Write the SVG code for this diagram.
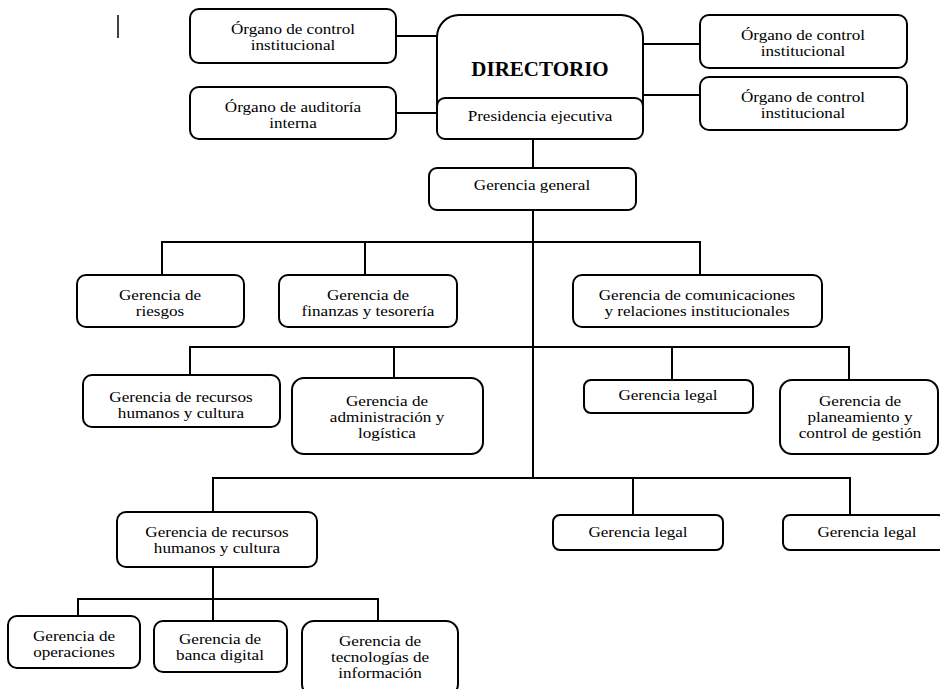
<svg xmlns="http://www.w3.org/2000/svg" width="940" height="689" viewBox="0 0 940 689">
<style>
.b{fill:#fff;stroke:#000;stroke-width:2}
.t{font-family:"Liberation Serif","Times New Roman",serif;font-size:14.5px;fill:#000;text-anchor:middle}
.h{font-family:"Liberation Serif","Times New Roman",serif;font-size:21px;font-weight:bold;fill:#000;text-anchor:middle}
.c{fill:none;stroke:#000;stroke-width:2}
</style>
<rect width="940" height="689" fill="#fff"/>
<line x1="118" y1="15" x2="118" y2="38" stroke="#000" stroke-width="1.5"/>
<g id="connectors">
<line class="c" x1="396" y1="36" x2="437" y2="36" stroke-width="2.5"/>
<line class="c" x1="396" y1="113" x2="437" y2="113" stroke-width="2.5"/>
<line class="c" x1="643" y1="44" x2="700" y2="44"/>
<line class="c" x1="643" y1="95" x2="700" y2="95"/>
<line class="c" x1="533" y1="139" x2="533" y2="168"/>
<line class="c" x1="533" y1="210" x2="533" y2="478"/>
<polyline class="c" points="162,275 162,242 700,242 700,275"/>
<line class="c" x1="365" y1="242" x2="365" y2="275"/>
<polyline class="c" points="190,375 190,347 849,347 849,380"/>
<line class="c" x1="394" y1="347" x2="394" y2="378"/>
<line class="c" x1="672" y1="347" x2="672" y2="380"/>
<polyline class="c" points="213,512 213,478 850,478 850,515"/>
<line class="c" x1="633" y1="478" x2="633" y2="515"/>
<line class="c" x1="213" y1="567" x2="213" y2="621"/>
<polyline class="c" points="78,616 78,599 378,599 378,621"/>
</g>
<g id="organo-control-1"><rect class="b" x="190" y="9" width="206" height="54" rx="9"/><text class="t" transform="translate(293,34) scale(1.18,1)">Órgano de control</text><text class="t" transform="translate(293,50) scale(1.18,1)">institucional</text></g>
<g id="organo-auditoria"><rect class="b" x="190" y="87" width="206" height="52" rx="9"/><text class="t" transform="translate(293,112) scale(1.18,1)">Órgano de auditoría</text><text class="t" transform="translate(293,128) scale(1.18,1)">interna</text></g>
<g id="directorio"><rect class="b" x="437" y="15" width="206" height="124" rx="22"/><text class="h" x="540" y="76">DIRECTORIO</text></g>
<g id="presidencia"><rect class="b" x="437" y="98" width="206" height="41" rx="8"/><text class="t" transform="translate(540,121) scale(1.18,1)">Presidencia ejecutiva</text></g>
<g id="organo-control-2"><rect class="b" x="700" y="15" width="207" height="53" rx="9"/><text class="t" transform="translate(803,40) scale(1.18,1)">Órgano de control</text><text class="t" transform="translate(803,56) scale(1.18,1)">institucional</text></g>
<g id="organo-control-3"><rect class="b" x="700" y="77" width="207" height="53" rx="9"/><text class="t" transform="translate(803,102) scale(1.18,1)">Órgano de control</text><text class="t" transform="translate(803,118) scale(1.18,1)">institucional</text></g>
<g id="gerencia-general"><rect class="b" x="429" y="168" width="207" height="42" rx="8"/><text class="t" transform="translate(532,190) scale(1.18,1)">Gerencia general</text></g>
<g id="riesgos"><rect class="b" x="77" y="275" width="167" height="52" rx="9"/><text class="t" transform="translate(160,300) scale(1.18,1)">Gerencia de</text><text class="t" transform="translate(160,316) scale(1.18,1)">riesgos</text></g>
<g id="finanzas"><rect class="b" x="279" y="275" width="178" height="52" rx="9"/><text class="t" transform="translate(368,300) scale(1.18,1)">Gerencia de</text><text class="t" transform="translate(368,316) scale(1.18,1)">finanzas y tesorería</text></g>
<g id="comunicaciones"><rect class="b" x="573" y="275" width="249" height="52" rx="9"/><text class="t" transform="translate(697,300) scale(1.18,1)">Gerencia de comunicaciones</text><text class="t" transform="translate(697,316) scale(1.18,1)">y relaciones institucionales</text></g>
<g id="rrhh-1"><rect class="b" x="83" y="375" width="197" height="52" rx="9"/><text class="t" transform="translate(181,402) scale(1.18,1)">Gerencia de recursos</text><text class="t" transform="translate(181,418) scale(1.18,1)">humanos y cultura</text></g>
<g id="administracion"><rect class="b" x="292" y="378" width="191" height="76" rx="12"/><text class="t" transform="translate(387,406) scale(1.18,1)">Gerencia de</text><text class="t" transform="translate(387,422) scale(1.18,1)">administración y</text><text class="t" transform="translate(387,438) scale(1.18,1)">logística</text></g>
<g id="legal-1"><rect class="b" x="584" y="380" width="169" height="33" rx="7"/><text class="t" transform="translate(668,400) scale(1.18,1)">Gerencia legal</text></g>
<g id="planeamiento"><rect class="b" x="780" y="380" width="158" height="74" rx="12"/><text class="t" transform="translate(860,406) scale(1.18,1)">Gerencia de</text><text class="t" transform="translate(860,422) scale(1.18,1)">planeamiento y</text><text class="t" transform="translate(860,438) scale(1.18,1)">control de gestión</text></g>
<g id="rrhh-2"><rect class="b" x="117" y="512" width="200" height="55" rx="9"/><text class="t" transform="translate(217,537) scale(1.18,1)">Gerencia de recursos</text><text class="t" transform="translate(217,553) scale(1.18,1)">humanos y cultura</text></g>
<g id="legal-2"><rect class="b" x="553" y="515" width="170" height="35" rx="7"/><text class="t" transform="translate(638,537) scale(1.18,1)">Gerencia legal</text></g>
<g id="legal-3"><rect class="b" x="783" y="515" width="162" height="35" rx="7"/><text class="t" transform="translate(867,537) scale(1.18,1)">Gerencia legal</text></g>
<g id="operaciones"><rect class="b" x="8" y="616" width="132" height="52" rx="9"/><text class="t" transform="translate(74,641) scale(1.18,1)">Gerencia de</text><text class="t" transform="translate(74,657) scale(1.18,1)">operaciones</text></g>
<g id="banca-digital"><rect class="b" x="154" y="621" width="133" height="51" rx="9"/><text class="t" transform="translate(220,644) scale(1.18,1)">Gerencia de</text><text class="t" transform="translate(220,660) scale(1.18,1)">banca digital</text></g>
<g id="tecnologias"><rect class="b" x="302" y="621" width="156" height="75" rx="12"/><text class="t" transform="translate(380,646) scale(1.18,1)">Gerencia de</text><text class="t" transform="translate(380,662) scale(1.18,1)">tecnologías de</text><text class="t" transform="translate(380,678) scale(1.18,1)">información</text></g>
</svg>
